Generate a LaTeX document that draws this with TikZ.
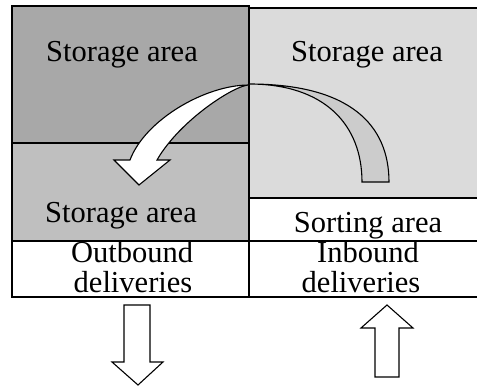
\documentclass[tikz,border=0pt]{standalone}
\usepackage{fontspec}
\setmainfont{Liberation Serif}
\begin{document}
\begin{tikzpicture}[x=1pt,y=-1pt,
  label/.style={anchor=base,inner sep=0pt,font=\fontsize{30.5}{34}\selectfont},
  wall/.style={draw=black,line width=1.5pt},
  blockarrow/.style={draw=black,line width=1.1pt,line join=miter,fill=white}]
\useasboundingbox (0,0) rectangle (477,387);
\definecolor{darkstore}{gray}{0.66}
\definecolor{midstore}{gray}{0.75}
\definecolor{lightstore}{gray}{0.86}
\definecolor{bandfill}{gray}{0.80}

% warehouse areas
\draw[wall,fill=darkstore]   (12,6)    rectangle (249,143);
\draw[wall,fill=midstore]    (12,143)  rectangle (249,241);
\draw[wall,fill=lightstore]  (249,8)   rectangle (482,198);
\draw[wall,fill=white]       (249,198) rectangle (482,241);
\draw[wall,fill=white]       (12,241)  rectangle (249,297);
\draw[wall,fill=white]       (249,241) rectangle (482,297);

% labels
\node[label] (s1) at (122,62)  {Storage area};
\node[label] (s2) at (367,62)  {Storage area};
\node[label] (s3) at (121,223) {Storage area};
\node[label] (so) at (368,233) {Sorting area};
\node[label] (o1) at (132,263) {Outbound};
\node[label] (o2) at (133,293) {deliveries};
\node[label] (i1) at (368,263) {Inbound};
\node[label] (i2) at (361,293) {deliveries};

% curved band from the sorting side
\draw[blockarrow,fill=bandfill]
  (249,84) .. controls (350,84) and (389,125) .. (389,182)
  -- (362,182) .. controls (362,125) and (325,84) .. (249,84) -- cycle;

% curved arrow into the lower storage area
\draw[blockarrow]
  (249,85) .. controls (205,85) and (145,120) .. (130,160)
  -- (114,160) -- (139,185) -- (170,160) -- (157,160)
  .. controls (180,120) and (235,85) .. (249,85) -- cycle;

% outbound and inbound arrows
\draw[blockarrow]
  (124,305) -- (150,305) -- (150,362) -- (163,362) -- (138,385)
  -- (112,362) -- (124,362) -- cycle;
\draw[blockarrow]
  (375,377) -- (399,377) -- (399,328) -- (413,328) -- (387,305)
  -- (361,328) -- (375,328) -- cycle;
\end{tikzpicture}
\end{document}
